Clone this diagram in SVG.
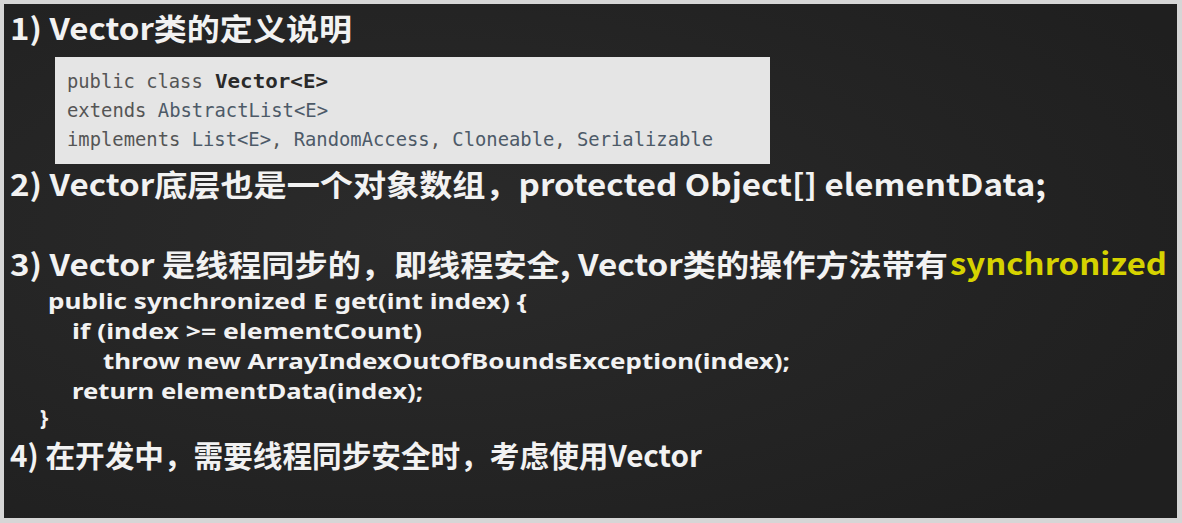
<svg xmlns="http://www.w3.org/2000/svg" width="1182" height="523" viewBox="0 0 1182 523">
  <style>
    .h { font-family: "Noto Sans CJK SC", "Noto Sans", sans-serif; font-weight: 700; font-size: 30px; fill: #f2f2f2; }
    .c { font-family: "Noto Sans", "Open Sans", sans-serif; font-weight: 700; font-size: 21px; fill: #f2f2f2; }
    .y { fill: #d6d300; }
    .m { font-family: "DejaVu Sans Mono", "Liberation Mono", monospace; font-size: 18.8px; fill: #555555; }
    .mb { font-weight: 700; fill: #2a2a2a; }
    .t { fill: #4d5a68; }
  </style>
  <defs>
    <radialGradient id="bg1" cx="0.35" cy="0.45" r="0.75">
      <stop offset="0" stop-color="#2b2b2b"/>
      <stop offset="1" stop-color="#1f1f1f"/>
    </radialGradient>
  </defs>
  <rect x="0" y="0" width="1182" height="523" fill="#d6d6d6"/>
  <rect x="4" y="4" width="1173" height="514" fill="url(#bg1)"/>

  <g id="title1">
    <text class="h" x="10" y="40" textLength="342" lengthAdjust="spacingAndGlyphs">1) Vector类的定义说明</text>
  </g>

  <g id="codebox">
    <rect x="55" y="57" width="715" height="107" fill="#e5e5e5"/>
    <text class="m" x="67" y="88">public class </text>
    <text class="m mb" x="215" y="88" textLength="113" lengthAdjust="spacingAndGlyphs">Vector&lt;E&gt;</text>
    <text class="m" x="67" y="117" textLength="261" lengthAdjust="spacingAndGlyphs">extends <tspan class="t">AbstractList&lt;E&gt;</tspan></text>
    <text class="m" x="67" y="146" textLength="646" lengthAdjust="spacingAndGlyphs">implements <tspan class="t">List&lt;E&gt;</tspan>, <tspan class="t">RandomAccess</tspan>, <tspan class="t">Cloneable</tspan>, <tspan class="t">Serializable</tspan></text>
  </g>

  <g id="item2">
    <text class="h" x="10" y="196" textLength="1036" lengthAdjust="spacingAndGlyphs">2) Vector底层也是一个对象数组，protected Object[] elementData;</text>
  </g>

  <g id="item3">
    <text class="h" x="10" y="276" textLength="938" lengthAdjust="spacingAndGlyphs">3) Vector 是线程同步的，即线程安全, Vector类的操作方法带有</text>
    <text class="h y" x="950" y="275" textLength="217" lengthAdjust="spacingAndGlyphs">synchronized</text>
  </g>

  <g id="code">
    <text class="c" x="48" y="309" textLength="479" lengthAdjust="spacingAndGlyphs">public synchronized E get(int index) {</text>
    <text class="c" x="72" y="339" textLength="350" lengthAdjust="spacingAndGlyphs">if (index &gt;= elementCount)</text>
    <text class="c" x="103" y="369" textLength="687" lengthAdjust="spacingAndGlyphs">throw new ArrayIndexOutOfBoundsException(index);</text>
    <text class="c" x="72" y="399" textLength="351" lengthAdjust="spacingAndGlyphs">return elementData(index);</text>
    <text class="c" x="40" y="425">}</text>
  </g>

  <g id="item4">
    <text class="h" x="10" y="467" textLength="692" lengthAdjust="spacingAndGlyphs">4) 在开发中，需要线程同步安全时，考虑使用Vector</text>
  </g>
</svg>
